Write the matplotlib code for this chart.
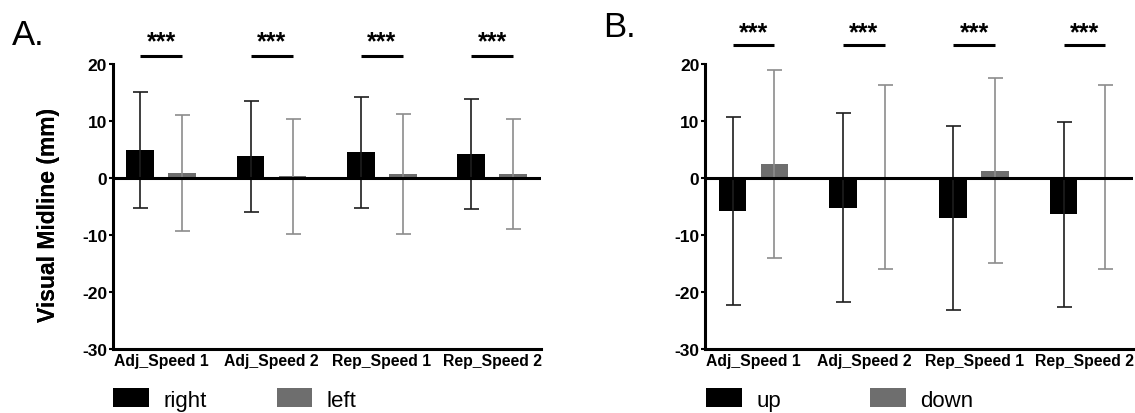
import matplotlib
matplotlib.use("Agg")
import matplotlib.pyplot as plt
import numpy as np

plt.rcParams['font.family'] = ['Liberation Sans', 'DejaVu Sans']
plt.rcParams['axes.unicode_minus'] = False

# Data
categories = ["Adj_Speed 1", "Adj_Speed 2", "Rep_Speed 1", "Rep_Speed 2"]

# Panel A: right / left
right_mean = [4.9, 3.8, 4.5, 4.2]
right_sd = [10.2, 9.7, 9.7, 9.7]
left_mean = [0.85, 0.3, 0.7, 0.7]
left_sd = [10.2, 10.05, 10.45, 9.6]

# Panel B: up / down
up_mean = [-5.8, -5.2, -7.0, -6.4]
up_sd = [16.5, 16.6, 16.2, 16.3]
down_mean = [2.4, 0.2, 1.3, 0.2]
down_sd = [16.5, 16.2, 16.2, 16.2]

W, H = 1135, 414
fig = plt.figure(figsize=(W / 100, H / 100), dpi=100)

dark = "#000000"
grey = "#6e6e6e"
dark_err = "#1e1e1e"
grey_err = "#8c8c8c"

panels = [
    dict(left=112.7, letter="A.", letter_xy=(12, 45), names=("right", "left"),
         s1=(right_mean, right_sd), s2=(left_mean, left_sd),
         line_y=21.4, star_y=22.8, leg_x=(113.3, 276.7)),
    dict(left=705, letter="B.", letter_xy=(603, 37), names=("up", "down"),
         s1=(up_mean, up_sd), s2=(down_mean, down_sd),
         line_y=23.3, star_y=24.4, leg_x=(706, 870)),
]

x = np.arange(len(categories))
bw = 0.25
off = 0.19

for p in panels:
    ax = fig.add_axes([p["left"] / W, (H - 350) / H, 428 / W, 285 / H])
    m1, e1 = p["s1"]
    m2, e2 = p["s2"]
    b1 = ax.bar(x - off, m1, bw, color=dark, zorder=2)
    b2 = ax.bar(x + off, m2, bw, color=grey, zorder=2)
    ax.errorbar(x - off, m1, yerr=e1, fmt="none", ecolor=dark_err,
                elinewidth=1.2, capsize=5.4, capthick=1.2, zorder=3)
    ax.errorbar(x + off, m2, yerr=e2, fmt="none", ecolor=grey_err,
                elinewidth=1.2, capsize=5.4, capthick=1.2, zorder=3)
    ax.axhline(0, color="black", lw=2.2, zorder=4)

    ax.set_xlim(-0.44, 3.44)
    ax.set_ylim(-30, 20)
    ax.set_yticks([-30, -20, -10, 0, 10, 20])
    ax.set_xticks(x)
    ax.set_xticklabels(categories, fontsize=11.3, fontweight="bold")
    for lab in ax.get_yticklabels():
        lab.set_fontweight("bold")
        lab.set_fontsize(12.5)
    ax.tick_params(axis="x", length=0, pad=3)
    ax.tick_params(axis="y", length=3, width=1.5, pad=1)
    for s in ["top", "right"]:
        ax.spines[s].set_visible(False)
    for s in ["left", "bottom"]:
        ax.spines[s].set_linewidth(2.2)
    ax.set_ylabel("Visual Midline (mm)", fontsize=16.5, fontweight="bold")
    ax.yaxis.set_label_coords((60 - p["left"]) / 428, (H - 215 - 64) / 285)

    # significance markers
    for xi in x:
        ax.plot([xi - off, xi + off], [p["line_y"], p["line_y"]], color="black",
                lw=2.2, clip_on=False, solid_capstyle="butt")
        ax.text(xi, p["star_y"], "***", ha="center", va="baseline", fontsize=18,
                fontweight="bold", clip_on=False)

    fig.text(p["letter_xy"][0] / W, (H - p["letter_xy"][1]) / H, p["letter"],
             fontsize=25, va="baseline", ha="left")

    # legend entries
    for handle, name, lx in zip([b1, b2], p["names"], p["leg_x"]):
        fig.legend([handle], [name], loc="center left",
                   bbox_to_anchor=(lx / W, (H - 400.5) / H),
                   frameon=False, fontsize=16, handlelength=1.6,
                   handleheight=0.93, handletextpad=0.65,
                   borderpad=0, borderaxespad=0)

fig.savefig("out.png", dpi=100)
